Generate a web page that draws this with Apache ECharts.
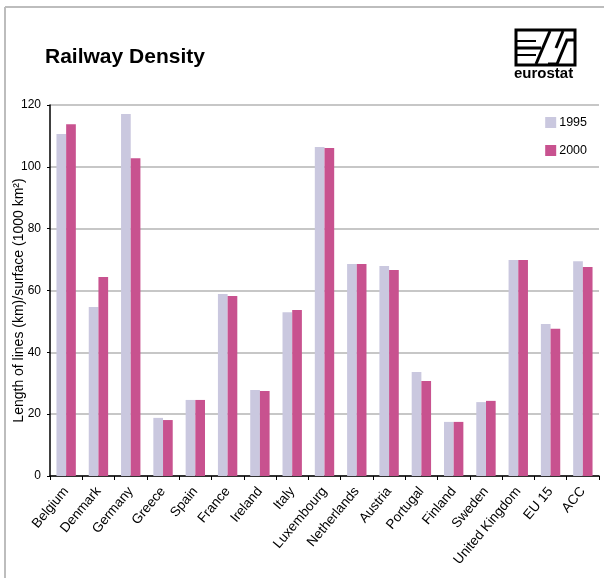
<!DOCTYPE html>
<html>
<head>
<meta charset="utf-8">
<style>
  html, body { margin: 0; padding: 0; background: #fff; }
  #chart { width: 604px; height: 578px; }
</style>
<script src="https://cdn.jsdelivr.net/npm/echarts@6/dist/echarts.min.js"></script>
</head>
<body>
<div id="chart"></div>
<script>
// Railway density by country, km of lines per 1000 km² of surface
const countries = ['Belgium', 'Denmark', 'Germany', 'Greece', 'Spain', 'France', 'Ireland', 'Italy',
  'Luxembourg', 'Netherlands', 'Austria', 'Portugal', 'Finland', 'Sweden', 'United Kingdom', 'EU 15', 'ACC'];
const density1995 = [110.6, 54.7, 117.1, 18.8, 24.6, 58.9, 27.8, 53.0, 106.4, 68.6, 67.9, 33.6, 17.5, 23.9, 69.9, 49.2, 69.5];
const density2000 = [113.8, 64.4, 102.8, 18.1, 24.6, 58.2, 27.5, 53.7, 106.1, 68.6, 66.6, 30.7, 17.5, 24.3, 69.9, 47.6, 67.6];
const yTicks = [0, 20, 40, 60, 80, 100, 120];

const FONT = '"Liberation Sans", Arial, sans-serif';
const chart = echarts.init(document.getElementById('chart'));

chart.setOption({
  animation: false,
  backgroundColor: '#ffffff',
  textStyle: { fontFamily: FONT },
  title: {
    text: 'Railway Density',
    left: 40, top: 42,
    textStyle: { fontFamily: FONT, fontSize: 21, fontWeight: 'bold', color: '#000' }
  },
  legend: {
    orient: 'vertical',
    right: 12, top: 111,
    itemWidth: 11, itemHeight: 11, itemGap: 15,
    icon: 'rect',
    textStyle: { fontFamily: FONT, fontSize: 12.5, color: '#000', padding: [0, 0, 0, -2] },
    data: ['1995', '2000']
  },
  grid: { left: 50, right: 5, top: 105, bottom: 102, containLabel: false, outerBoundsMode: 'none' },
  xAxis: {
    type: 'category',
    data: countries,
    axisLine: { lineStyle: { color: '#000', width: 1.5 } },
    axisTick: { show: true, length: 4, lineStyle: { color: '#000' } },
    axisLabel: {
      rotate: 50, interval: 0, margin: 13,
      fontFamily: FONT, fontSize: 13.5, color: '#000'
    }
  },
  yAxis: {
    type: 'value',
    min: yTicks[0], max: yTicks[yTicks.length - 1], interval: 20,
    name: 'Length of lines (km)/surface (1000 km²)',
    nameLocation: 'middle', nameGap: 24, nameMoveOverlap: false,
    nameTextStyle: { fontFamily: FONT, fontSize: 14, color: '#000', padding: [0, 20, 0, 0] },
    axisLine: { show: true, lineStyle: { color: '#000', width: 1.5 } },
    axisTick: { show: true, length: 3, lineStyle: { color: '#000' } },
    axisLabel: { fontFamily: FONT, fontSize: 12, color: '#000', margin: 9 },
    splitLine: { lineStyle: { color: '#b4b4b4', width: 1.5 } }
  },
  series: [
    {
      name: '1995', type: 'bar', data: density1995,
      itemStyle: { color: '#cac8df' },
      barGap: '0%', barCategoryGap: '40%'
    },
    {
      name: '2000', type: 'bar', data: density2000,
      itemStyle: { color: '#c8528f' }
    }
  ],
  graphic: [
    // page frame (top and left rules)
    { type: 'line', shape: { x1: 5, y1: 7, x2: 604, y2: 7 }, style: { stroke: '#bdbdbd', lineWidth: 2 } },
    { type: 'line', shape: { x1: 5, y1: 7, x2: 5, y2: 578 }, style: { stroke: '#bdbdbd', lineWidth: 2 } },
    // logo mark
    { type: 'rect', shape: { x: 516, y: 30, width: 59, height: 35 }, style: { fill: 'none', stroke: '#000', lineWidth: 3 } },
    { type: 'line', shape: { x1: 517, y1: 41, x2: 536, y2: 41 }, style: { stroke: '#000', lineWidth: 2 } },
    { type: 'line', shape: { x1: 517, y1: 48, x2: 541, y2: 48 }, style: { stroke: '#000', lineWidth: 3 } },
    { type: 'line', shape: { x1: 517, y1: 55, x2: 536, y2: 55 }, style: { stroke: '#000', lineWidth: 2 } },
    { type: 'polyline', shape: { points: [[536, 64], [550, 31]] }, style: { stroke: '#000', lineWidth: 3, fill: 'none' } },
    { type: 'polyline', shape: { points: [[548, 64], [557, 64], [567, 40], [575, 40]] }, style: { stroke: '#000', lineWidth: 3, fill: 'none' } },
    { type: 'polyline', shape: { points: [[556, 48], [563, 31]] }, style: { stroke: '#000', lineWidth: 3, fill: 'none' } },
    { type: 'text', left: 514, top: 66, style: { text: 'eurostat', fontFamily: FONT, fontSize: 15, fontWeight: 'bold', fill: '#000' } }
  ]
});
</script>
</body>
</html>
